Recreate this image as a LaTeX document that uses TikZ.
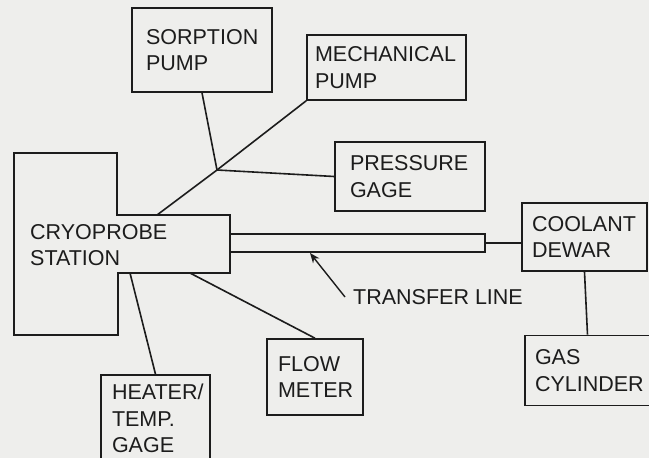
\documentclass[tikz,border=0pt]{standalone}
\usepackage{fontspec}
\setmainfont{Liberation Sans}
\usepackage{xcolor}
\usepackage{tikz}
\usetikzlibrary{
  arrows.meta,
  positioning
}
\definecolor{ScanGray}{RGB}{238, 238, 236}
\definecolor{InkBlack}{RGB}{28, 28, 28}
\tikzset{
    labelfont/.style={font=\fontsize{21.5}{26.5}\selectfont, text=InkBlack},
    unitbox/.style={rectangle, draw=InkBlack, line width=1.6pt, inner ysep=0pt,
        align=left, labelfont},
    pipe/.style={draw=InkBlack, line width=1.6pt},
}

\begin{document}
\begin{tikzpicture}[x=1pt, y=-1pt]
                \useasboundingbox[fill=ScanGray] (0,0) rectangle (649,458);
                % station outline
                \draw[pipe] (14,153) -| (117,215) -| (230,273) -| (118,335) -- (14,335) -- cycle;
                \node[anchor=west, inner sep=0pt, align=left, labelfont] (station) at (30,245) {CRYOPROBE\\STATION};
                \coordinate (cptop) at (157,215);
                \coordinate (cpheat) at (130,273);
                \coordinate (cpflow) at (190,273);
                \coordinate (junc) at (217,170);
                \coordinate (tip) at (310,253);

                \node[unitbox, inner xsep=14pt, text width=112pt, minimum height=84pt] (sorp) at (202,50) {SORPTION\\PUMP};
                \node[unitbox, inner xsep=8pt, text width=143pt, minimum height=65pt] (mech) at (386.5,67.5) {MECHANICAL\\PUMP};
                \node[unitbox, inner xsep=15pt, text width=120pt, minimum height=69pt] (press) at (410,176.5) {PRESSURE\\GAGE};
                \node[unitbox, inner xsep=10pt, text width=105pt, minimum height=68pt] (dewar) at (584.5,237) {COOLANT\\DEWAR};
                \node[unitbox, inner xsep=10pt, text width=105pt, minimum height=70pt] (gascyl) at (587.5,370.5) {GAS\\CYLINDER};
                \node[unitbox, inner xsep=11pt, text width=87pt, minimum height=87pt] (heater) at (155.5,418.5) {HEATER/\\TEMP.\\GAGE};
                \node[unitbox, inner xsep=11pt, text width=74pt, minimum height=76pt] (flow) at (315,377) {FLOW\\METER};

                \node[rectangle, draw=InkBlack, line width=1.6pt, inner sep=0pt, minimum width=255pt, minimum height=18pt] (tline) at (357.5,243) {};
                \node[anchor=west, inner sep=0pt, labelfont] (tlabel) at (353,297) {TRANSFER LINE};

                \draw[pipe] (sorp.south) -- (junc);
                \draw[pipe] (cptop) -- (junc) -- (mech.south west);
                \draw[pipe] (junc) -- (press.west);
                \draw[pipe] (tline.east) -- (tline.east -| dewar.west);
                \draw[pipe] (dewar.south) -- (gascyl.north);
                \draw[pipe] (cpheat) -- (heater.north);
                \draw[pipe] (cpflow) -- (flow.north);
                \draw[pipe, line width=1.4pt, -{Stealth[length=10pt, width=8pt]}] ([xshift=-8pt]tlabel.west) -- (tip);
            \end{tikzpicture}
\end{document}
